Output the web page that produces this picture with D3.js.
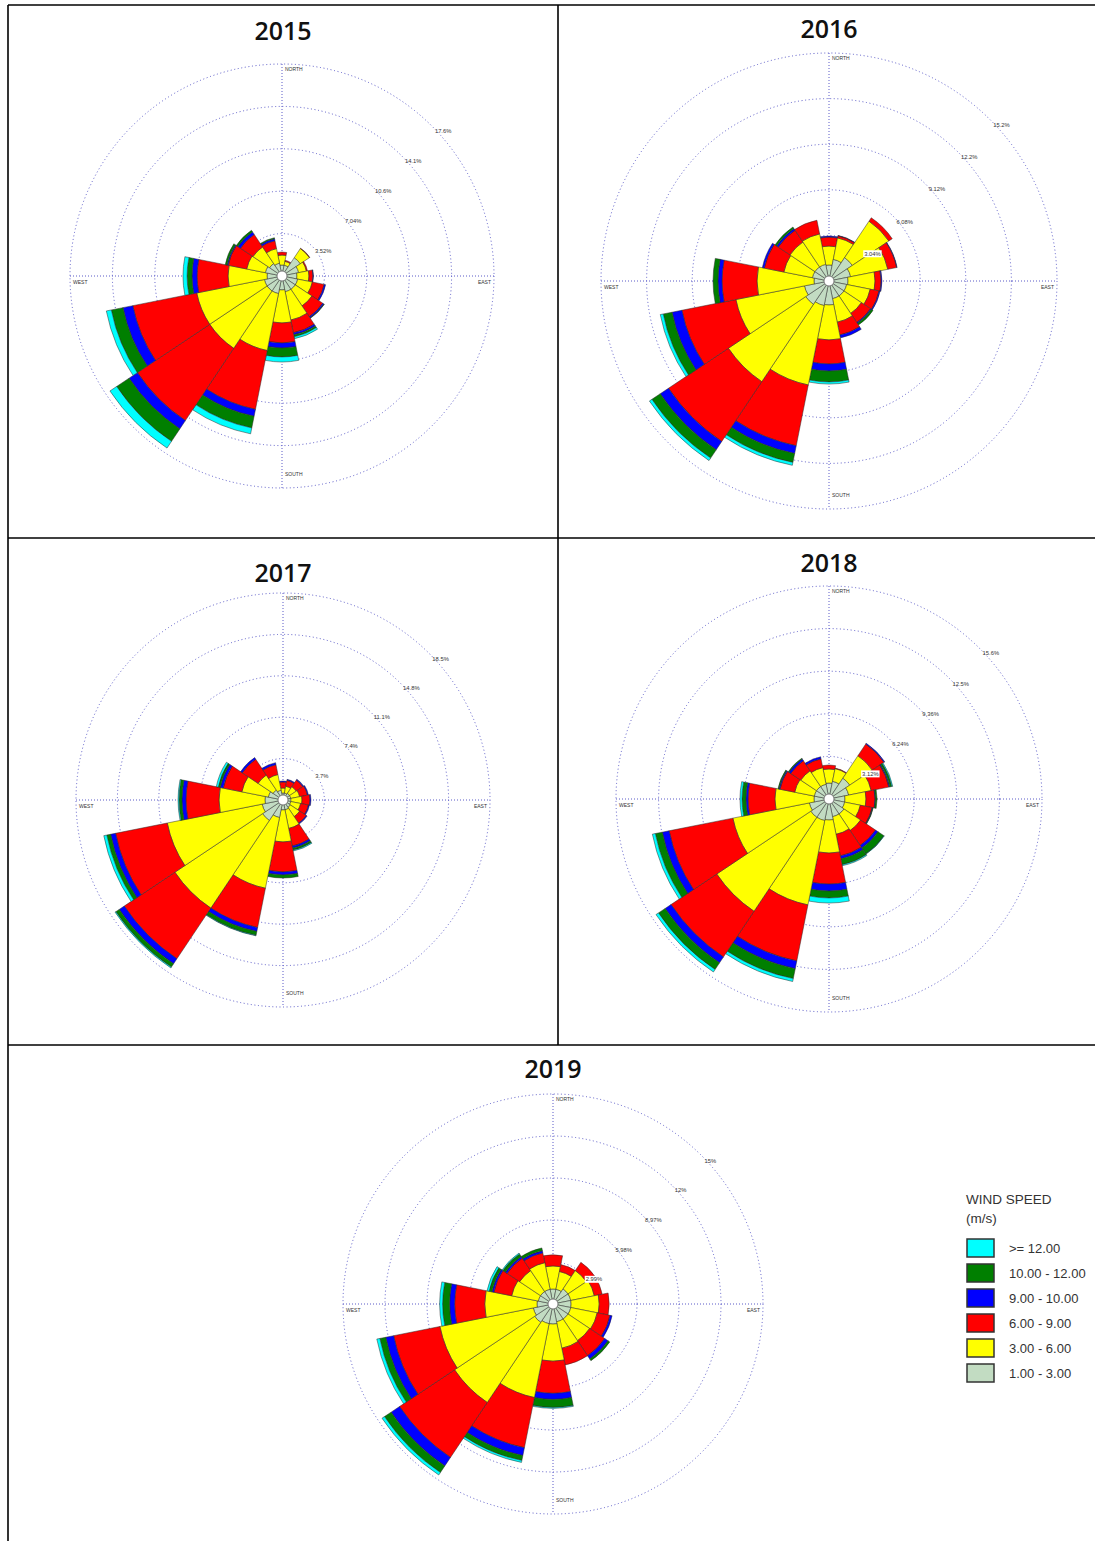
<!DOCTYPE html>
<html><head><meta charset="utf-8">
<script src="https://cdn.jsdelivr.net/npm/d3@7"></script>
<style>body{margin:0;background:#fff} svg{display:block}</style>
</head><body>
<script>
// ---------- DATA ----------
const directions = ["N","NNE","NE","ENE","E","ESE","SE","SSE","S","SSW","SW","WSW","W","WNW","NW","NNW"];
const speedBins = ["1.00 - 3.00","3.00 - 6.00","6.00 - 9.00","9.00 - 10.00","10.00 - 12.00",">= 12.00"];
const binColors = ["#c2dcc2","#ffff00","#ff0000","#0000ff","#007f00","#00ffff"];
const legendOrder = [5,4,3,2,1,0];
const years = ["2015","2016","2017","2018","2019"];

// frequency (%) per direction, per speed bin [1-3, 3-6, 6-9, 9-10, 10-12, >=12]
const freq2015 = [
 [0.91,0.83,0.25,0,0,0],[0.91,0.33,0.09,0,0,0],[1.83,0.91,0.04,0,0,0],[1.41,0.66,0.09,0,0,0],
 [1.24,1.00,0.33,0.04,0,0],[1.33,1.24,1.00,0.12,0,0],[1.33,1.66,1.08,0.12,0.04,0],[1.33,2.40,1.08,0.17,0.17,0.16],
 [1.16,2.74,1.66,0.42,0.74,0.42],[1.49,4.82,4.98,0.58,0.99,0.50],[1.49,5.73,7.22,0.83,1.24,0.67],[1.49,5.73,5.41,0.83,0.99,0.42],
 [1.24,3.24,2.57,0.42,0.41,0.34],[1.41,1.58,1.57,0.09,0.16,0],[1.24,1.66,1.25,0.25,0.16,0],[1.08,1.24,0.67,0.16,0.09,0]
];
const freq2016 = [
 [1.07,1.26,0.60,0.07,0,0],[1.47,1.46,0.14,0.03,0,0],[1.87,2.93,0.27,0,0,0],[1.47,2.53,0.60,0.03,0,0],
 [1.27,1.80,0.40,0.06,0,0],[1.20,1.60,0.60,0.07,0,0],[1.20,1.40,0.73,0.07,0.13,0],[1.20,1.60,0.87,0.20,0,0],
 [1.60,2.33,1.60,0.47,0.73,0.14],[1.67,5.40,4.13,0.53,0.60,0.20],[1.87,6.20,4.80,0.66,0.67,0.20],[1.67,4.66,3.67,0.67,0.60,0.20],
 [1.00,3.80,2.33,0.27,0.33,0],[1.13,1.94,1.33,0.13,0,0],[1.13,2.00,0.94,0.13,0.13,0],[1.13,2.07,0.93,0,0,0]
];
const freq2017 = [
 [0.63,0.44,0.54,0.09,0,0],[0.63,0.62,0.54,0.09,0,0],[0.71,0.72,0.71,0.09,0,0],[0.71,0.81,0.71,0.09,0,0],
 [0.71,0.99,0.71,0.09,0,0],[0.71,0.90,0.71,0.09,0,0],[0.80,0.99,0.71,0.09,0,0],[0.89,1.70,1.61,0.18,0.18,0.09],
 [0.89,2.86,2.68,0.27,0.27,0],[1.60,6.44,3.58,0.36,0.35,0.05],[2.20,9.42,5.45,0.53,0.36,0.09],[1.90,8.65,4.71,0.45,0.35,0.27],
 [1.61,4.11,2.95,0.36,0.26,0.09],[1.34,2.41,1.70,0.27,0.18,0.18],[1.07,1.61,1.70,0.18,0,0],[0.89,1.43,0.90,0.18,0,0]
];
const freq2018 = [
 [1.17,1.03,0.29,0,0,0],[1.32,0.95,0.04,0,0,0],[1.83,1.98,1.03,0.07,0,0],[1.47,1.68,1.32,0.07,0.15,0.07],
 [1.17,1.54,0.66,0.04,0.11,0],[1.17,1.17,0.88,0.04,0.04,0],[1.32,1.46,1.32,0.22,0.52,0.03],[1.32,1.32,1.61,0.22,0.44,0.07],
 [1.54,2.42,2.27,0.51,0.51,0.37],[1.61,6.30,4.18,0.58,0.74,0.22],[1.61,8.28,4.03,0.51,0.59,0.22],[1.47,5.71,4.76,0.51,0.52,0.22],
 [1.10,2.86,1.97,0.15,0.29,0.15],[1.10,1.46,1.10,0.08,0.07,0],[1.10,1.39,0.88,0.15,0.07,0],[1.10,1.24,0.66,0.15,0,0]
];
const freq2019 = [
 [1.07,1.64,0.79,0,0,0],[1.07,1.29,0.50,0,0,0],[1.29,1.57,0.71,0,0,0],[1.29,1.71,0.57,0,0,0],
 [1.29,2.00,0.71,0,0,0],[1.29,1.92,0.93,0.15,0,0],[1.29,1.85,1.29,0.28,0.15,0],[1.29,1.92,1.22,0,0,0],
 [1.43,2.64,2.29,0.43,0.57,0.07],[1.43,5.36,3.64,0.57,0.36,0.14],[1.57,6.86,4.71,0.72,0.57,0.21],[1.43,6.78,3.36,0.57,0.43,0.22],
 [1.14,3.72,2.14,0.36,0.50,0.21],[1.07,1.93,1.29,0.14,0.21,0.15],[1.07,1.79,1.07,0.14,0.22,0.07],[1.07,1.93,0.71,0.15,0.21,0]
];
const ringSteps = [3.52, 3.04, 3.7, 3.12, 2.99];
const ringLabels2015 = ["3.52%","7.04%","10.6%","14.1%","17.6%"];
const ringLabels2016 = ["3.04%","6.08%","9.12%","12.2%","15.2%"];
const ringLabels2017 = ["3.7%","7.4%","11.1%","14.8%","18.5%"];
const ringLabels2018 = ["3.12%","6.24%","9.36%","12.5%","15.6%"];
const ringLabels2019 = ["2.99%","5.98%","8.97%","12%","15%"];
const compassLabels = ["NORTH","EAST","SOUTH","WEST"];

// ---------- LAYOUT ----------
const W = 1095, H = 1541;
const svg = d3.select("body").append("svg").attr("width", W).attr("height", H);

const layout = [
  {cx:282, cy:276, R:212, tx:283, ty:40},
  {cx:829, cy:281, R:228, tx:829, ty:38},
  {cx:283, cy:800, R:207, tx:283, ty:582},
  {cx:829, cy:799, R:213, tx:829, ty:572},
  {cx:553, cy:1304, R:210, tx:553, ty:1078}
];
const datasets = [freq2015, freq2016, freq2017, freq2018, freq2019];
const ringLabelSets = [ringLabels2015, ringLabels2016, ringLabels2017, ringLabels2018, ringLabels2019];

// panel borders
const border = svg.append("g").attr("stroke","#000").attr("stroke-width",1.6);
[[8,5,1095,5],[8,5,8,1541],[558,5,558,1045],[8,538,1095,538],[8,1045,1095,1045]].forEach(l=>{
  border.append("line").attr("x1",l[0]).attr("y1",l[1]).attr("x2",l[2]).attr("y2",l[3]);
});

const arcGen = d3.arc();
const gridColor = "#5a5ac8";

years.forEach((yr, pi) => {
  const L = layout[pi];
  const data = datasets[pi];
  const step = ringSteps[pi];
  const rScale = d3.scaleLinear().domain([0, step*5]).range([0, L.R]);
  const ticks = d3.range(1,6).map(i => i*step);

  // title
  svg.append("text").attr("x", L.tx).attr("y", L.ty).attr("text-anchor","middle")
    .attr("font-family","Open Sans, Liberation Sans, sans-serif").attr("font-size",25)
    .attr("font-weight",600).attr("fill","#111").text(yr);

  const g = svg.append("g").attr("transform", `translate(${L.cx},${L.cy})`);

  // rings
  g.selectAll("circle.ring").data(ticks).join("circle").attr("class","ring")
    .attr("r", d => rScale(d)).attr("fill","none").attr("stroke",gridColor)
    .attr("stroke-width",1).attr("stroke-dasharray","1,2.6");
  // axes
  g.append("line").attr("x1",0).attr("x2",0).attr("y1",-L.R).attr("y2",L.R)
    .attr("stroke",gridColor).attr("stroke-width",1).attr("stroke-dasharray","1,2");
  g.append("line").attr("y1",0).attr("y2",0).attr("x1",-L.R).attr("x2",L.R)
    .attr("stroke",gridColor).attr("stroke-width",1).attr("stroke-dasharray","1,2");

  // wedges
  const segs = [];
  data.forEach((bins, di) => {
    const a0 = (di*22.5 - 11.25) * Math.PI/180;
    const a1 = (di*22.5 + 11.25) * Math.PI/180;
    let cum = 0;
    bins.forEach((v, k) => {
      if (v <= 0) return;
      segs.push({a0, a1, inner: cum, outer: cum + v, k});
      cum += v;
    });
  });
  g.selectAll("path.seg").data(segs).join("path").attr("class","seg")
    .attr("d", s => arcGen({innerRadius: rScale(s.inner), outerRadius: rScale(s.outer), startAngle: s.a0, endAngle: s.a1}))
    .attr("fill", s => binColors[s.k]).attr("stroke","#2a2a2a").attr("stroke-width",0.5);

  // calm circle
  g.append("circle").attr("r",5).attr("fill","#fff").attr("stroke","#666").attr("stroke-width",0.8);

  // ring labels
  ringLabelSets[pi].forEach((lab, i) => {
    const rr = rScale(ticks[i]);
    const x = rr*Math.SQRT1_2 + 3, y = -rr*Math.SQRT1_2 + 7;
    const lg = g.append("g");
    const t = lg.append("text").attr("x",x).attr("y",y).attr("font-family","Liberation Sans, Arial, sans-serif")
      .attr("font-size",5.8).attr("fill","#333").text(lab);
    const bb = t.node().getBBox();
    if (i === 0) lg.insert("rect","text").attr("x",bb.x-1).attr("y",bb.y-0.5).attr("width",bb.width+2).attr("height",bb.height+1).attr("fill","#fff");
  });

  // compass labels
  const cf = {"font-family":"Liberation Sans, Arial, sans-serif","font-size":5,"fill":"#333"};
  const addT = (x,y,txt,anchor) => {
    const t = g.append("text").attr("x",x).attr("y",y).attr("text-anchor",anchor).text(txt);
    Object.entries(cf).forEach(([k,v])=>t.attr(k,v));
  };
  addT(3, -L.R+7, compassLabels[0], "start");
  addT(L.R-3, 8, compassLabels[1], "end");
  addT(3, L.R-12, compassLabels[2], "start");
  addT(-L.R+3, 8, compassLabels[3], "start");
});

// legend
const leg = svg.append("g").attr("font-family","Liberation Sans, Arial, sans-serif").attr("fill","#333");
leg.append("text").attr("x",966).attr("y",1204).attr("font-size",13.5).text("WIND SPEED");
leg.append("text").attr("x",966).attr("y",1223).attr("font-size",13.5).text("(m/s)");
legendOrder.forEach((k, i) => {
  const y = 1239 + i*25;
  leg.append("rect").attr("x",967).attr("y",y).attr("width",27).attr("height",18)
    .attr("fill",binColors[k]).attr("stroke","#333").attr("stroke-width",1.5);
  leg.append("text").attr("x",1009).attr("y",y+14).attr("font-size",13).text(speedBins[k]);
});
</script>
</body></html>
